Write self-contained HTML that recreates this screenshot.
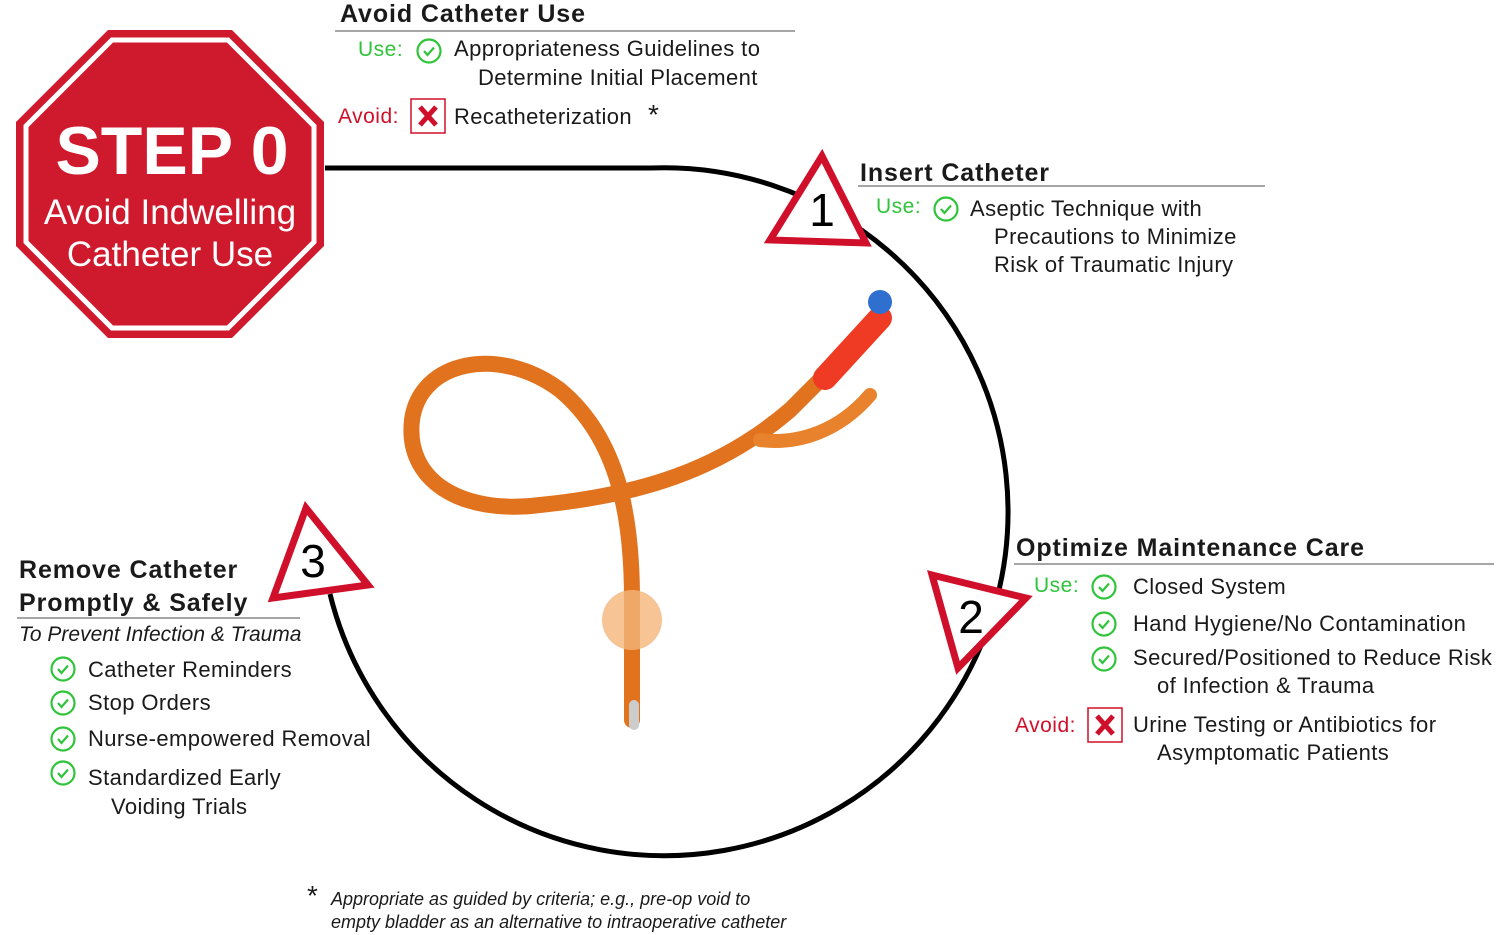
<!DOCTYPE html>
<html><head><meta charset="utf-8"><style>
html,body{margin:0;padding:0;background:#fff;}
svg{display:block;font-family:"Liberation Sans",sans-serif;}
.h{font-weight:bold;font-size:25px;fill:#1a1a1a;letter-spacing:0.9px;}
.t{font-size:22px;fill:#1a1a1a;letter-spacing:0.4px;}
.g{font-size:21px;fill:#2fc43a;letter-spacing:0.5px;}
.r{font-size:21px;fill:#d0102a;letter-spacing:0.5px;}
.ck{fill:none;stroke:#2fc43a;stroke-width:2.2;}
</style></head><body>
<svg width="1498" height="935" viewBox="0 0 1498 935">
<defs>
<g id="chk"><circle cx="0" cy="0" r="11.5" class="ck"/><path d="M-5,0 L-1.5,4 L5,-3.5" class="ck"/></g>
<g id="x"><rect x="-17" y="-17" width="34" height="34" fill="#fff" stroke="#d0102a" stroke-width="1.5"/><path d="M-8,-9 L8,9 M8,-9 L-8,9" stroke="#d0102a" stroke-width="5"/></g>
</defs>
<path d="M325,168 L650,168 A344,344 0 1 1 330,594" fill="none" stroke="#000" stroke-width="5"/>
<polygon points="108,30 232,30 324,122 324,246 232,338 108,338 16,246 16,122" fill="#cf1a2e"/>
<polygon points="112,40 228,40 314,126 314,242 228,328 112,328 26,242 26,126" fill="none" stroke="#fff" stroke-width="5"/>
<text x="172" y="174" text-anchor="middle" font-weight="bold" font-size="68" fill="#fff">STEP 0</text>
<text x="170" y="224" text-anchor="middle" font-size="35" fill="#fff">Avoid Indwelling</text>
<text x="170" y="266" text-anchor="middle" font-size="35" fill="#fff">Catheter Use</text>
<polygon points="822,156 770,240 866,243" fill="#fff" stroke="#d0102a" stroke-width="7"/>
<text x="822" y="226" text-anchor="middle" font-size="46" fill="#000">1</text>
<polygon points="932,575 1026,598 958,668" fill="#fff" stroke="#d0102a" stroke-width="7"/>
<text x="971" y="633" text-anchor="middle" font-size="46" fill="#000">2</text>
<polygon points="306,508 273,598 368,585" fill="#fff" stroke="#d0102a" stroke-width="7"/>
<text x="313" y="577" text-anchor="middle" font-size="46" fill="#000">3</text>
<g fill="none" stroke-linecap="round">
<path d="M632,720 L632,600 C632,520 620,440 560,390 C500,345 420,360 412,420 C405,480 460,515 540,505 C640,495 720,470 790,410 L830,370" stroke="#e2731e" stroke-width="16"/>
<path d="M760,440 C800,445 840,430 870,395" stroke="#e8822c" stroke-width="14"/>
<path d="M825,378 L880,318" stroke="#ef3a24" stroke-width="24"/>
<circle cx="880" cy="302" r="12" fill="#2f6fd0"/>
<circle cx="632" cy="620" r="30" fill="#f4b57a" opacity="0.8"/>
<path d="M634,705 L634,725" stroke="#ccc" stroke-width="10"/>
</g>
<text x="340" y="22" class="h">Avoid Catheter Use</text>
<line x1="335" y1="31" x2="795" y2="31" stroke="#888" stroke-width="1.5"/>
<text x="358" y="56" class="g">Use:</text><use href="#chk" x="429" y="51"/>
<text x="454" y="56" class="t">Appropriateness Guidelines to</text>
<text x="478" y="85" class="t">Determine Initial Placement</text>
<text x="338" y="123" class="r">Avoid:</text><use href="#x" x="428" y="116"/>
<text x="454" y="124" class="t">Recatheterization</text><text x="648" y="124" font-size="28" fill="#1a1a1a">*</text>
<text x="860" y="181" class="h">Insert Catheter</text>
<line x1="858" y1="186" x2="1265" y2="186" stroke="#888" stroke-width="1.5"/>
<text x="876" y="213" class="g">Use:</text><use href="#chk" x="946" y="209"/>
<text x="970" y="216" class="t">Aseptic Technique with</text>
<text x="994" y="244" class="t">Precautions to Minimize</text>
<text x="994" y="272" class="t">Risk of Traumatic Injury</text>
<text x="1016" y="556" class="h">Optimize Maintenance Care</text>
<line x1="1014" y1="564" x2="1494" y2="564" stroke="#888" stroke-width="1.5"/>
<text x="1034" y="592" class="g">Use:</text>
<use href="#chk" x="1104" y="587"/><text x="1133" y="594" class="t">Closed System</text>
<use href="#chk" x="1104" y="624"/><text x="1133" y="631" class="t">Hand Hygiene/No Contamination</text>
<use href="#chk" x="1104" y="659"/><text x="1133" y="665" class="t">Secured/Positioned to Reduce Risk</text>
<text x="1157" y="693" class="t">of Infection &amp; Trauma</text>
<text x="1015" y="732" class="r">Avoid:</text><use href="#x" x="1105" y="725"/>
<text x="1133" y="732" class="t">Urine Testing or Antibiotics for</text>
<text x="1157" y="760" class="t">Asymptomatic Patients</text>
<text x="19" y="578" class="h">Remove Catheter</text>
<text x="19" y="611" class="h">Promptly &amp; Safely</text>
<line x1="17" y1="618" x2="300" y2="618" stroke="#888" stroke-width="1.5"/>
<text x="19" y="641" font-size="21" font-style="italic" fill="#1a1a1a">To Prevent Infection &amp; Trauma</text>
<use href="#chk" x="63" y="669"/><text x="88" y="677" class="t">Catheter Reminders</text>
<use href="#chk" x="63" y="703"/><text x="88" y="710" class="t">Stop Orders</text>
<use href="#chk" x="63" y="739"/><text x="88" y="746" class="t">Nurse-empowered Removal</text>
<use href="#chk" x="63" y="773"/><text x="88" y="785" class="t">Standardized Early</text>
<text x="111" y="814" class="t">Voiding Trials</text>
<text x="307" y="905" font-size="28" fill="#1a1a1a">*</text>
<text x="331" y="905" font-size="18" font-style="italic" fill="#1a1a1a">Appropriate as guided by criteria; e.g., pre-op void to</text>
<text x="331" y="928" font-size="18" font-style="italic" fill="#1a1a1a">empty bladder as an alternative to intraoperative catheter</text>
</svg>
</body></html>
